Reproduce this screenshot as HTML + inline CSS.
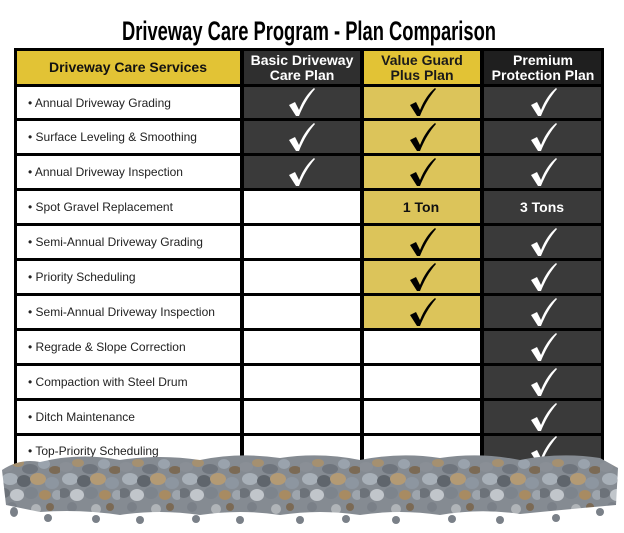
<!DOCTYPE html>
<html><head><meta charset="utf-8"><style>html,body{margin:0;padding:0;background:#fff;width:624px;height:533px;overflow:hidden}</style></head>
<body>
<svg width="624" height="533" xmlns="http://www.w3.org/2000/svg" font-family="Liberation Sans, sans-serif">
<defs>
<path id="ck" d="M-11,2 L-5,-1 L-1,7 C3,-3 8,-10 14,-15 L15,-14 C8,-6 3,3 -1,13 L-4,13 Z"/>
<pattern id="gr" x="0" y="455" width="60" height="70" patternUnits="userSpaceOnUse">
<rect width="60" height="70" fill="#858b92"/>
<ellipse cx="6" cy="12" rx="7" ry="5" fill="#8a8f96"/>
<ellipse cx="18" cy="8" rx="6" ry="4" fill="#a59070"/>
<ellipse cx="30" cy="14" rx="8" ry="5" fill="#6f757d"/>
<ellipse cx="44" cy="9" rx="6" ry="5" fill="#9aa3ad"/>
<ellipse cx="55" cy="15" rx="6" ry="4" fill="#7b6a55"/>
<ellipse cx="10" cy="24" rx="8" ry="6" fill="#a8b0b8"/>
<ellipse cx="24" cy="26" rx="7" ry="6" fill="#5f656c"/>
<ellipse cx="38" cy="24" rx="8" ry="6" fill="#b39a74"/>
<ellipse cx="52" cy="28" rx="7" ry="6" fill="#8d96a0"/>
<ellipse cx="4" cy="38" rx="6" ry="5" fill="#6c7279"/>
<ellipse cx="17" cy="40" rx="7" ry="6" fill="#c1c6cb"/>
<ellipse cx="31" cy="38" rx="7" ry="6" fill="#7d848c"/>
<ellipse cx="45" cy="40" rx="6" ry="5" fill="#a88b62"/>
<ellipse cx="57" cy="40" rx="5" ry="5" fill="#9ea5ad"/>
<ellipse cx="12" cy="52" rx="5" ry="5" fill="#7a8088"/>
<ellipse cx="36" cy="54" rx="5" ry="5" fill="#b0b4b8"/>
<ellipse cx="50" cy="52" rx="4" ry="4" fill="#7b6a55"/>
</pattern>
</defs>
<text x="122" y="40" font-size="27" font-weight="bold" textLength="374" lengthAdjust="spacingAndGlyphs" fill="#000">Driveway Care Program - Plan Comparison</text>
<rect x="14" y="48" width="590" height="420" fill="#000"/>
<rect x="17" y="51" width="223" height="33" fill="#e2c335"/>
<rect x="244" y="51" width="116" height="33" fill="#2f2f2f"/>
<rect x="364" y="51" width="116" height="33" fill="#e2c335"/>
<rect x="484" y="51" width="117" height="33" fill="#1f1f1f"/>
<g font-weight="bold" font-size="14" text-anchor="middle">
<text x="128" y="72" fill="#111">Driveway Care Services</text>
<text x="302" y="65" fill="#fff">Basic Driveway</text><text x="302" y="80" fill="#fff">Care Plan</text>
<text x="422" y="65" fill="#1a1a1a">Value Guard</text><text x="422" y="80" fill="#1a1a1a">Plus Plan</text>
<text x="543" y="65" fill="#fff">Premium</text><text x="543" y="80" fill="#fff">Protection Plan</text>
</g>
<g fill="#fff">
<rect x="17" y="87" width="223" height="31"/><rect x="17" y="121" width="223" height="32"/><rect x="17" y="156" width="223" height="32"/><rect x="17" y="191" width="223" height="32"/><rect x="17" y="226" width="223" height="32"/><rect x="17" y="261" width="223" height="32"/><rect x="17" y="296" width="223" height="32"/><rect x="17" y="331" width="223" height="32"/><rect x="17" y="366" width="223" height="32"/><rect x="17" y="401" width="223" height="32"/><rect x="17" y="436" width="223" height="32"/>
<rect x="244" y="191" width="116" height="32"/><rect x="244" y="226" width="116" height="32"/><rect x="244" y="261" width="116" height="32"/><rect x="244" y="296" width="116" height="32"/><rect x="244" y="331" width="116" height="32"/><rect x="244" y="366" width="116" height="32"/><rect x="244" y="401" width="116" height="32"/><rect x="244" y="436" width="116" height="32"/>
<rect x="364" y="331" width="116" height="32"/><rect x="364" y="366" width="116" height="32"/><rect x="364" y="401" width="116" height="32"/><rect x="364" y="436" width="116" height="32"/>
</g>
<g fill="#3a3a3a">
<rect x="244" y="87" width="116" height="31"/><rect x="244" y="121" width="116" height="32"/><rect x="244" y="156" width="116" height="32"/>
<rect x="484" y="87" width="117" height="31"/><rect x="484" y="121" width="117" height="32"/><rect x="484" y="156" width="117" height="32"/><rect x="484" y="191" width="117" height="32"/><rect x="484" y="226" width="117" height="32"/><rect x="484" y="261" width="117" height="32"/><rect x="484" y="296" width="117" height="32"/><rect x="484" y="331" width="117" height="32"/><rect x="484" y="366" width="117" height="32"/><rect x="484" y="401" width="117" height="32"/><rect x="484" y="436" width="117" height="32"/>
</g>
<g fill="#dcc45a">
<rect x="364" y="87" width="116" height="31"/><rect x="364" y="121" width="116" height="32"/><rect x="364" y="156" width="116" height="32"/><rect x="364" y="191" width="116" height="32"/><rect x="364" y="226" width="116" height="32"/><rect x="364" y="261" width="116" height="32"/><rect x="364" y="296" width="116" height="32"/>
</g>
<g font-size="12" fill="#222">
<text x="28" y="107">• Annual Driveway Grading</text>
<text x="28" y="141">• Surface Leveling &amp; Smoothing</text>
<text x="28" y="176">• Annual Driveway Inspection</text>
<text x="28" y="211">• Spot Gravel Replacement</text>
<text x="28" y="246">• Semi-Annual Driveway Grading</text>
<text x="28" y="281">• Priority Scheduling</text>
<text x="28" y="316">• Semi-Annual Driveway Inspection</text>
<text x="28" y="351">• Regrade &amp; Slope Correction</text>
<text x="28" y="386">• Compaction with Steel Drum</text>
<text x="28" y="421">• Ditch Maintenance</text>
<text x="28" y="455">• Top-Priority Scheduling</text>
</g>
<g fill="#fff">
<use href="#ck" x="300" y="103"/><use href="#ck" x="300" y="138"/><use href="#ck" x="300" y="173"/>
<use href="#ck" x="542" y="103"/><use href="#ck" x="542" y="138"/><use href="#ck" x="542" y="173"/><use href="#ck" x="542" y="243"/><use href="#ck" x="542" y="278"/><use href="#ck" x="542" y="313"/><use href="#ck" x="542" y="348"/><use href="#ck" x="542" y="383"/><use href="#ck" x="542" y="418"/><use href="#ck" x="542" y="451"/>
</g>
<g fill="#000">
<use href="#ck" x="421" y="103"/><use href="#ck" x="421" y="138"/><use href="#ck" x="421" y="173"/><use href="#ck" x="421" y="243"/><use href="#ck" x="421" y="278"/><use href="#ck" x="421" y="313"/>
</g>
<text x="421" y="212" font-size="14" font-weight="bold" text-anchor="middle" fill="#111">1 Ton</text>
<text x="542" y="212" font-size="14" font-weight="bold" text-anchor="middle" fill="#fff">3 Tons</text>
<path d="M2,470 Q20,458 40,462 Q80,452 120,460 Q160,454 200,460 Q240,452 280,458 Q320,452 360,460 Q400,452 440,458 Q480,452 520,460 Q560,452 600,458 L618,468 L616,505 Q560,510 520,514 Q480,508 440,515 Q400,509 360,515 Q320,509 280,515 Q240,509 200,515 Q160,509 120,515 Q80,509 40,512 L6,505 Z" fill="url(#gr)"/>
<g fill="#7a8088">
<ellipse cx="14" cy="512" rx="4" ry="5"/><ellipse cx="48" cy="518" rx="4" ry="4"/><ellipse cx="96" cy="519" rx="4" ry="4"/><ellipse cx="140" cy="520" rx="4" ry="4"/><ellipse cx="196" cy="519" rx="4" ry="4"/><ellipse cx="240" cy="520" rx="4" ry="4"/><ellipse cx="300" cy="520" rx="4" ry="4"/><ellipse cx="346" cy="519" rx="4" ry="4"/><ellipse cx="396" cy="520" rx="4" ry="4"/><ellipse cx="452" cy="519" rx="4" ry="4"/><ellipse cx="500" cy="520" rx="4" ry="4"/><ellipse cx="556" cy="518" rx="4" ry="4"/><ellipse cx="600" cy="512" rx="4" ry="4"/>
</g>
</svg>
</body></html>
